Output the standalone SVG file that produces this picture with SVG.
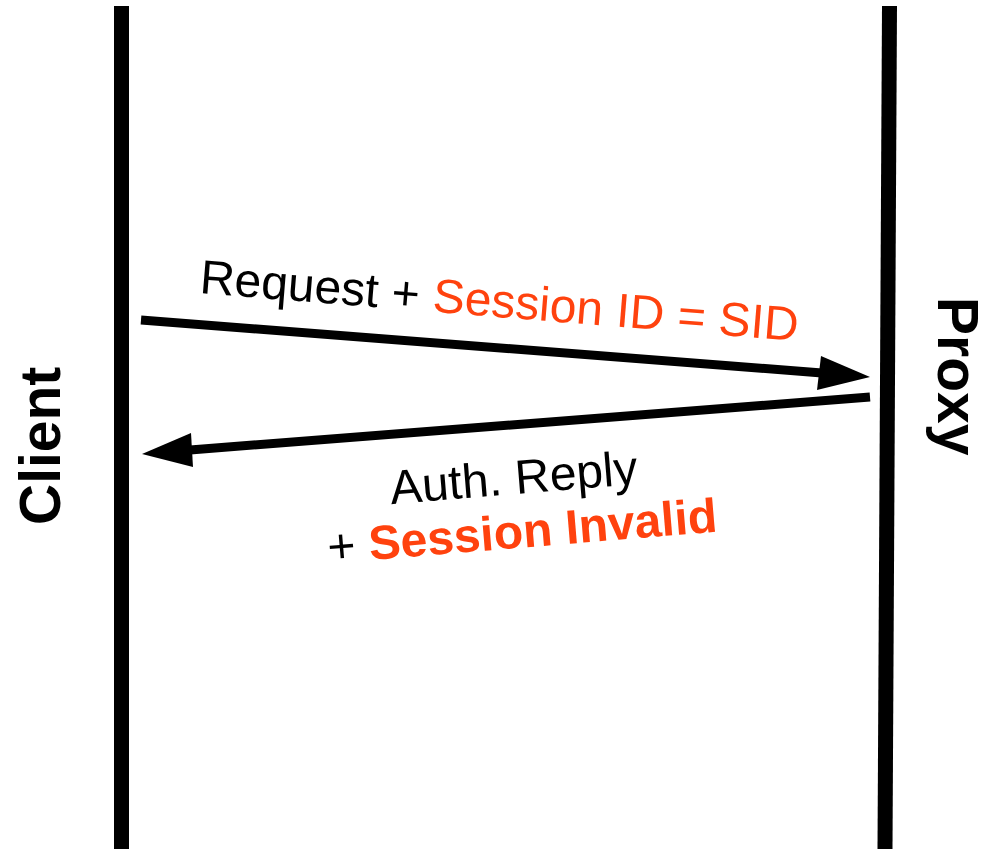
<svg xmlns="http://www.w3.org/2000/svg" width="981" height="849" viewBox="0 0 981 849">
<style>
.life{stroke:#000;stroke-width:15;fill:none}
.msg{stroke:#000;stroke-width:9;fill:none}
.head{fill:#000;stroke:none}
.lbl{font-family:"Liberation Sans",Arial,sans-serif;font-size:48px;fill:#000}
.actor{font-family:"Liberation Sans",Arial,sans-serif;font-size:57px;font-weight:bold;fill:#000}
.red{fill:#ff420e}
.b{font-weight:bold}
</style>
<rect width="981" height="849" fill="#fff"/>
<g id="client">
<line class="life" x1="121.5" y1="6" x2="121.5" y2="849"/>
<text class="actor" transform="translate(60,525) rotate(-90)">Client</text>
</g>
<g id="proxy">
<line class="life" x1="889.5" y1="6" x2="885" y2="849"/>
<text class="actor" transform="translate(938,297) rotate(90)">Proxy</text>
</g>
<g id="connectors">
<g id="request">
<line class="msg" x1="141" y1="320" x2="822" y2="373"/>
<polygon class="head" points="870,377 821,356 817,390"/>
<text class="lbl" transform="translate(199,293) rotate(4.6)">Request + <tspan class="red">Session ID = SID</tspan></text>
</g>
<g id="reply">
<line class="msg" x1="870" y1="397" x2="190" y2="450"/>
<polygon class="head" points="142,454 193,467 191,433"/>
<g transform="translate(515,494) rotate(-4.7)">
<text class="lbl" text-anchor="middle"><tspan x="0" y="0">Auth. Reply</tspan><tspan x="4" y="54">+ <tspan class="red b">Session Invalid</tspan></tspan></text>
</g>
</g>
</g>
</svg>
